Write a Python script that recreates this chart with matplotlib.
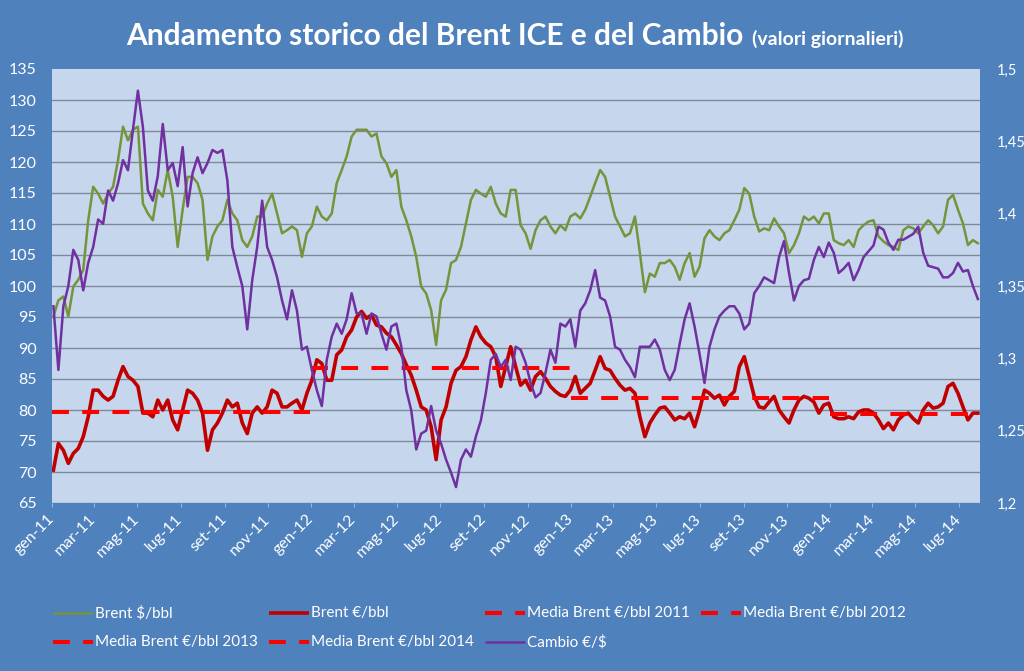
import numpy as np
import pandas as pd
import matplotlib
matplotlib.use('Agg')
import matplotlib.pyplot as plt
from matplotlib.lines import Line2D

# ---------------- data (weekly readings of the daily series) ----------------
dates = pd.date_range('2011-01-03', periods=187, freq='7D')

brent_usd = [
    95.1, 97.7, 98.3, 95.1, 99.9, 101.0, 102.6, 110.6, 116.0, 114.9,
    113.3, 114.9, 116.0, 120.3, 125.7, 123.5, 125.2, 125.7, 113.3, 111.7,
    110.6, 115.5, 114.4, 118.7, 114.4, 106.3, 112.3, 117.6, 117.6, 116.6,
    113.9, 104.2, 108.0, 109.6, 110.6, 113.9, 111.7, 110.6, 107.4, 106.3,
    108.0, 111.2, 111.2, 113.3, 114.9, 111.7, 108.5, 109.0, 109.6, 109.0,
    104.7, 108.5, 109.6, 112.8, 111.2, 110.6, 111.7, 116.6, 118.7, 120.9,
    124.1, 125.2, 125.2, 125.2, 124.1, 124.6, 120.9, 119.8, 117.6, 118.7,
    112.8, 110.6, 108.0, 104.7, 99.9, 98.8, 96.1, 90.5, 97.7, 99.4,
    103.7, 104.2, 106.3, 110.1, 113.9, 115.5, 114.9, 114.4, 116.0, 113.3,
    111.7, 111.2, 115.5, 115.5, 109.8, 108.5, 106.0, 109.0, 110.6, 111.2,
    109.6, 108.5, 109.8, 109.0, 111.2, 111.7, 110.9, 112.3, 114.4, 116.6,
    118.7, 117.6, 114.4, 111.2, 109.6, 108.0, 108.5, 111.2, 105.3, 99.0,
    102.0, 101.5, 103.7, 103.7, 104.2, 103.1, 101.0, 103.7, 105.3, 101.5,
    103.1, 107.7, 109.0, 108.0, 107.4, 108.5, 109.0, 110.6, 112.3, 115.8,
    114.9, 111.2, 108.8, 109.3, 109.0, 110.9, 109.6, 108.5, 105.3, 106.6,
    108.5, 111.2, 110.6, 111.2, 110.1, 111.7, 111.7, 107.4, 106.9, 106.6,
    107.4, 106.3, 109.0, 109.8, 110.4, 110.6, 108.0, 107.2, 106.6, 106.3,
    105.8, 109.0, 109.6, 109.3, 108.5, 109.6, 110.6, 109.8, 108.5, 109.6,
    113.9, 114.7, 112.3, 110.1, 106.6, 107.4, 106.9]

brent_eur = [
    70.3, 74.6, 73.5, 71.4, 73.0, 73.8, 75.7, 78.9, 83.2, 83.2,
    82.2, 81.6, 82.2, 84.8, 87.0, 85.4, 84.8, 83.8, 79.5, 79.5,
    78.9, 81.6, 80.0, 81.6, 78.4, 76.8, 80.0, 83.2, 82.7, 81.6,
    79.5, 73.5, 76.8, 77.9, 79.5, 81.6, 80.5, 81.1, 77.9, 76.2,
    79.5, 80.5, 79.5, 80.5, 83.2, 82.7, 80.5, 80.5, 81.1, 81.6,
    80.0, 82.7, 84.8, 88.1, 87.5, 84.8, 84.8, 88.9, 89.7, 91.8,
    92.9, 95.0, 95.9, 94.8, 95.3, 93.7, 93.4, 92.4, 91.8, 90.5,
    89.1, 87.3, 85.6, 83.2, 80.5, 80.0, 77.3, 72.0, 78.4, 80.5,
    84.3, 86.4, 87.0, 88.6, 91.3, 93.4, 91.8, 90.8, 90.2, 88.6,
    83.8, 87.0, 90.2, 87.0, 84.0, 84.8, 83.2, 85.4, 86.2, 85.1,
    83.8, 83.0, 82.4, 82.2, 83.2, 85.4, 82.7, 83.5, 84.3, 86.4,
    88.6, 86.7, 86.4, 85.1, 84.0, 83.2, 83.5, 82.7, 78.9, 75.7,
    77.9, 79.2, 80.3, 80.5, 79.5, 78.4, 78.9, 78.6, 79.5, 77.3,
    80.0, 83.2, 82.7, 81.9, 82.4, 80.8, 82.2, 83.0, 87.0, 88.6,
    85.4, 82.2, 80.5, 80.3, 81.3, 82.2, 80.0, 78.9, 77.9, 80.0,
    81.6, 82.2, 81.9, 81.3, 79.5, 80.8, 81.1, 78.9, 78.6, 78.6,
    78.9, 78.6, 79.7, 80.0, 80.0, 79.5, 78.4, 77.0, 77.9, 76.8,
    78.4, 79.2, 79.5, 78.6, 77.9, 80.0, 81.1, 80.3, 80.5, 81.1,
    83.8, 84.3, 82.7, 80.5, 78.4, 79.5, 79.5]

cambio = [
    1.336, 1.292, 1.336, 1.350, 1.375, 1.368, 1.347, 1.366, 1.377, 1.396,
    1.393, 1.416, 1.409, 1.421, 1.437, 1.430, 1.458, 1.485, 1.460, 1.416,
    1.409, 1.426, 1.462, 1.430, 1.435, 1.419, 1.446, 1.405, 1.428, 1.439,
    1.428, 1.435, 1.444, 1.442, 1.444, 1.423, 1.377, 1.363, 1.350, 1.320,
    1.354, 1.377, 1.409, 1.377, 1.368, 1.356, 1.340, 1.327, 1.347, 1.333,
    1.306, 1.308, 1.292, 1.278, 1.267, 1.299, 1.315, 1.324, 1.317, 1.327,
    1.345, 1.331, 1.331, 1.317, 1.331, 1.329, 1.317, 1.306, 1.322, 1.324,
    1.308, 1.278, 1.264, 1.237, 1.248, 1.250, 1.267, 1.250, 1.241, 1.230,
    1.221, 1.211, 1.230, 1.237, 1.232, 1.246, 1.257, 1.276, 1.299, 1.303,
    1.294, 1.299, 1.285, 1.308, 1.306, 1.297, 1.283, 1.273, 1.276, 1.290,
    1.306, 1.297, 1.324, 1.322, 1.327, 1.308, 1.333, 1.338, 1.347, 1.361,
    1.342, 1.340, 1.329, 1.308, 1.306, 1.299, 1.294, 1.287, 1.308, 1.308,
    1.308, 1.313, 1.306, 1.292, 1.285, 1.292, 1.310, 1.327, 1.338, 1.322,
    1.303, 1.283, 1.308, 1.320, 1.329, 1.333, 1.336, 1.336, 1.331, 1.320,
    1.324, 1.345, 1.350, 1.356, 1.354, 1.352, 1.370, 1.381, 1.359, 1.340,
    1.350, 1.354, 1.355, 1.368, 1.377, 1.370, 1.380, 1.373, 1.359, 1.362,
    1.366, 1.354, 1.361, 1.370, 1.374, 1.378, 1.391, 1.389, 1.380, 1.375,
    1.382, 1.382, 1.384, 1.386, 1.391, 1.373, 1.364, 1.363, 1.362, 1.356,
    1.356, 1.359, 1.366, 1.360, 1.361, 1.350, 1.341]

media_labels = ['Media Brent €/bbl 2011', 'Media Brent €/bbl 2012',
                'Media Brent €/bbl 2013', 'Media Brent €/bbl 2014']
media_values = [79.6, 86.8, 81.9, 79.3]
media_start = ['2011-01-01', '2012-01-01', '2013-01-01', '2014-01-01']
media_end = ['2011-12-31', '2012-12-31', '2013-12-31', '2014-07-31']

tick_dates = pd.date_range('2011-01-01', '2014-07-01', freq='2MS')
tick_labels = ['gen-11', 'mar-11', 'mag-11', 'lug-11', 'set-11', 'nov-11',
               'gen-12', 'mar-12', 'mag-12', 'lug-12', 'set-12', 'nov-12',
               'gen-13', 'mar-13', 'mag-13', 'lug-13', 'set-13', 'nov-13',
               'gen-14', 'mar-14', 'mag-14', 'lug-14']
left_ticks = list(range(65, 136, 5))
right_ticks = [1.2, 1.25, 1.3, 1.35, 1.4, 1.45, 1.5]
right_tick_labels = ['1,2', '1,25', '1,3', '1,35', '1,4', '1,45', '1,5']

# ---------------- style ----------------
BG = '#4F81BD'
PLOT_BG = '#C6D6EC'
GRID = '#7E8A9C'
C_USD = '#77933C'
C_EUR = '#C00000'
C_MEDIA = '#FF0000'
C_FX = '#7030A0'
FONT = 'Lato'

W, H = 1024, 671
fig = plt.figure(figsize=(W / 100, H / 100), dpi=100)
fig.patch.set_facecolor(BG)

def fx(px):
    return px / W

def fy(py):
    return 1 - py / H

ax = fig.add_axes([fx(52), fy(503), fx(980) - fx(52), fy(69) - fy(503)])
ax.set_facecolor(PLOT_BG)
ax.set_axisbelow(True)

ax.plot(dates, brent_usd, color=C_USD, lw=1.8, zorder=3)
ax.plot(dates, brent_eur, color=C_EUR, lw=2.6, zorder=4)
for v, s, e in zip(media_values, media_start, media_end):
    ax.plot([pd.Timestamp(s), pd.Timestamp(e)], [v, v], color=C_MEDIA,
            lw=2.9, dashes=(4.2, 3.3), solid_capstyle='butt',
            dash_capstyle='butt', zorder=5)

ax.set_ylim(65, 135)
ax.set_yticks(left_ticks)
ax.set_xlim(pd.Timestamp('2011-01-01'), pd.Timestamp('2014-07-31'))
ax.set_xticks(tick_dates)
ax.set_xticklabels(tick_labels, rotation=45, ha='right', va='center',
                   rotation_mode='anchor', fontfamily=FONT, fontsize=11.5,
                   color='white')
ax.grid(axis='y', color=GRID, lw=1.0)
ax.grid(axis='x', visible=False)
ax.get_ygridlines()[-1].set_visible(False)
ax.tick_params(axis='y', length=0, pad=11, labelcolor='white', labelsize=11.5)
ax.tick_params(axis='x', length=3, width=0.8, color='#9DB3D6', pad=7)
for lab in ax.get_yticklabels():
    lab.set_fontfamily(FONT)
for sp in ax.spines.values():
    sp.set_visible(False)

ax2 = ax.twinx()
ax2.plot(dates, cambio, color=C_FX, lw=1.8, zorder=6)
ax2.set_ylim(1.2, 1.5)
ax2.set_yticks(right_ticks)
ax2.set_yticklabels(right_tick_labels, fontfamily=FONT, fontsize=10.5,
                    color='white')
ax2.tick_params(axis='y', length=0, pad=12)
for sp in ax2.spines.values():
    sp.set_visible(False)

# ---------------- title ----------------
t1 = fig.text(0, fy(45), 'Andamento storico del Brent ICE e del Cambio',
              fontfamily=FONT, fontweight='bold', fontsize=21.5, color='white',
              ha='left', va='baseline')
t2 = fig.text(0, fy(45), '(valori giornalieri)', fontfamily=FONT,
              fontweight='bold', fontsize=14, color='white', ha='left',
              va='baseline')
fig.canvas.draw()
r = fig.canvas.get_renderer()
w1 = t1.get_window_extent(r).width
w2 = t2.get_window_extent(r).width
gap = 9
total = w1 + gap + w2
x0 = 515 - total / 2
t1.set_x(fx(x0))
t2.set_x(fx(x0 + w1 + gap))

# ---------------- legend (Excel-style grid) ----------------
entries = [
    ('Brent $/bbl', C_USD, 1.8, None),
    ('Brent €/bbl', C_EUR, 2.6, None),
    (media_labels[0], C_MEDIA, 2.9, 'dash'),
    (media_labels[1], C_MEDIA, 2.9, 'dash'),
    (media_labels[2], C_MEDIA, 2.9, 'dash'),
    (media_labels[3], C_MEDIA, 2.9, 'dash'),
    ('Cambio €/$', C_FX, 1.8, None),
]
col_x = [53, 269, 485, 701]
row_y = [613, 642]
for i, (lab, col, lw, style) in enumerate(entries):
    cx = col_x[i % 4]
    cy = row_y[i // 4]
    if style == 'dash':
        ln = Line2D([fx(cx), fx(cx + 40)], [fy(cy), fy(cy)],
                    transform=fig.transFigure, color=col, lw=lw,
                    dashes=(4.2, 3.3), dash_capstyle='butt')
    else:
        ln = Line2D([fx(cx), fx(cx + 40)], [fy(cy), fy(cy)],
                    transform=fig.transFigure, color=col, lw=lw,
                    solid_capstyle='butt')
    fig.add_artist(ln)
    fig.text(fx(cx + 42), fy(cy), lab, fontfamily=FONT, fontsize=11,
             color='white', ha='left', va='center')

fig.savefig('out.png', dpi=100, facecolor=BG)
